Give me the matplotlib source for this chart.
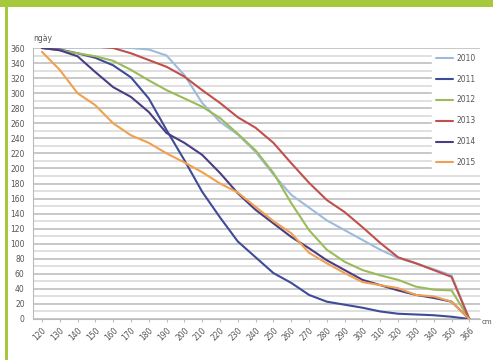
import matplotlib
matplotlib.use("Agg")
import matplotlib.pyplot as plt
from matplotlib.patches import Rectangle
from matplotlib.ticker import MultipleLocator

categories = ["120", "130", "140", "150", "160", "170", "180", "190", "200", "210",
              "220", "230", "240", "250", "260", "270", "280", "290", "300", "310",
              "320", "330", "340", "350", "366"]

s2010 = [360, 361, 361, 361, 361, 360, 358, 350, 324, 287, 262, 245, 222, 192, 165, 148,
         131, 118, 105, 92, 81, 74, 66, 58, 0]
s2011 = [360, 358, 353, 347, 337, 321, 293, 251, 211, 169, 135, 103, 82, 61, 48, 32,
         23, 19, 15, 10, 7, 6, 5, 3, 0]
s2012 = [360, 357, 353, 349, 343, 331, 317, 304, 293, 282, 267, 246, 224, 194, 154, 118,
         92, 76, 65, 58, 52, 43, 39, 38, 0]
s2013 = [360, 361, 362, 362, 360, 353, 344, 335, 322, 304, 287, 268, 254, 234, 207, 181,
         158, 142, 122, 101, 82, 74, 65, 56, 0]
s2014 = [360, 357, 349, 328, 308, 295, 275, 247, 234, 218, 194, 167, 145, 127, 109, 94,
         78, 65, 52, 45, 38, 32, 28, 23, 0]
s2015 = [355, 331, 300, 284, 260, 244, 234, 220, 208, 195, 180, 168, 149, 130, 114, 88,
         74, 61, 49, 45, 41, 32, 30, 23, 0]

series = [("2010", s2010, "#9dbbdc"),
          ("2011", s2011, "#3e4c98"),
          ("2012", s2012, "#9bbb59"),
          ("2013", s2013, "#c0504d"),
          ("2014", s2014, "#4a3d85"),
          ("2015", s2015, "#f0a050")]

W, H = 493, 360
fig = plt.figure(figsize=(W / 100, H / 100), dpi=100)
fig.patch.set_facecolor("white")

# decorative frame: green top bar and left bar
fig.patches.append(Rectangle((0, 1 - 7 / H), 1, 7 / H, transform=fig.transFigure,
                             facecolor="#a5c83c", edgecolor="none", zorder=0))
fig.patches.append(Rectangle((5 / W, 0), 2.5 / W, 1 - 7 / H, transform=fig.transFigure,
                             facecolor="#a5c83c", edgecolor="none", zorder=0))

ax = fig.add_axes([33 / W, 1 - 319 / H, (480 - 33) / W, (319 - 48) / H])
x = list(range(len(categories)))
for name, vals, col in series:
    ax.plot(x, vals, color=col, lw=1.5, label=name, solid_capstyle="round")

ax.set_xlim(-0.5, 24.6)
ax.set_ylim(0, 360)
ax.yaxis.set_major_locator(MultipleLocator(20))
ax.yaxis.set_minor_locator(MultipleLocator(10))
ax.grid(axis="y", which="major", color="#c8c8c8", lw=1.4)
ax.grid(axis="y", which="minor", color="#dadada", lw=1.2)
ax.set_axisbelow(True)

ax.set_xticks(x)
ax.set_xticklabels(categories, rotation=45, ha="right", rotation_mode="anchor",
                   fontsize=5.5, color="#555555")
ax.tick_params(axis="y", labelsize=5.5, labelcolor="#555555", length=0, pad=6)
ax.tick_params(axis="y", which="minor", length=0)
ax.tick_params(axis="x", length=2, color="#bbbbbb", pad=3)
for s in ["top", "right"]:
    ax.spines[s].set_visible(False)
ax.spines["left"].set_color("#bbbbbb")
ax.spines["bottom"].set_color("#bbbbbb")

ax.text(0.0, 1.02, "ngày", transform=ax.transAxes, fontsize=5.5, color="#555555",
        ha="left", va="bottom")
fig.text(482 / W, 1 - 322 / H, "cm", fontsize=5, color="#555555",
         ha="left", va="center")

leg = ax.legend(loc="upper left", bbox_to_anchor=(432 / W, 1 - 50 / H),
                bbox_transform=fig.transFigure, frameon=True, fontsize=5.5,
                handlelength=2.2, handletextpad=0.5, labelspacing=1.55,
                borderpad=0.5, borderaxespad=0)
leg.get_frame().set_facecolor("white")
leg.get_frame().set_edgecolor("white")
leg.get_frame().set_alpha(1)
for t in leg.get_texts():
    t.set_color("#555555")

fig.savefig("out.png", dpi=100, facecolor="white")
